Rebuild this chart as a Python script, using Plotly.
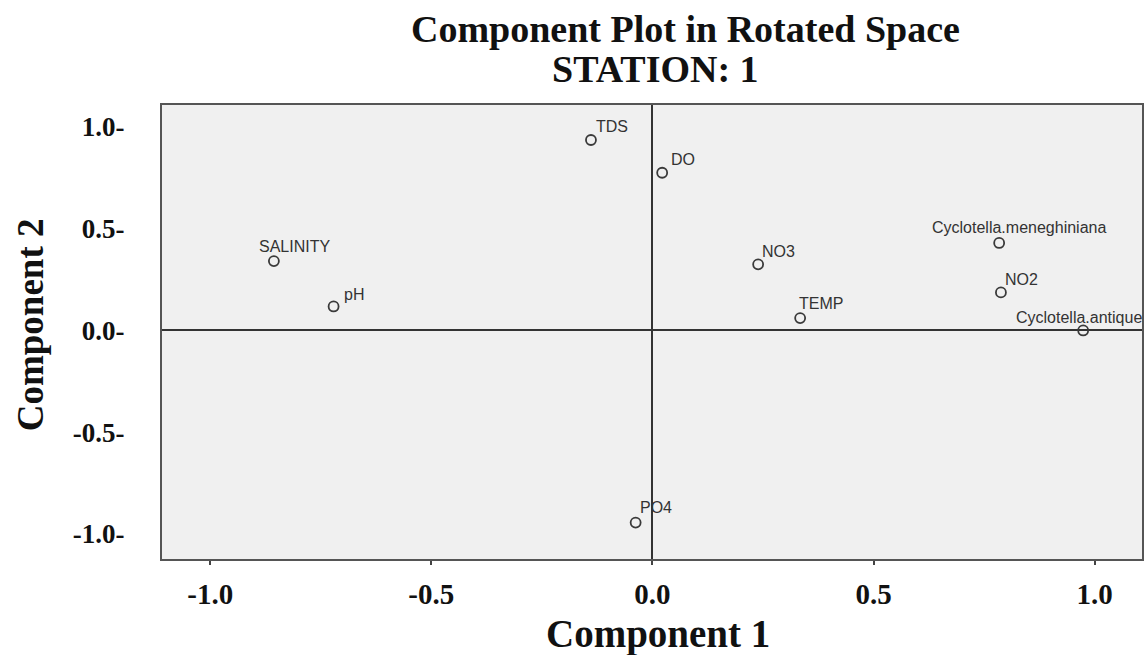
import plotly.graph_objects as go

# Rotated component loadings for station 1
variables = ["TDS", "DO", "SALINITY", "pH", "NO3", "TEMP",
             "Cyclotella.meneghiniana", "NO2", "Cyclotella.antique", "PO4"]
component_1 = [-0.139, 0.022, -0.856, -0.721, 0.239, 0.334, 0.784, 0.788, 0.974, -0.038]
component_2 = [0.936, 0.775, 0.341, 0.118, 0.325, 0.061, 0.430, 0.187, 0.0, -0.944]

tick_values = [-1.0, -0.5, 0.0, 0.5, 1.0]
x_tick_labels = ["-1.0", "-0.5", "0.0", "0.5", "1.0"]
y_tick_labels = ["-1.0-", "-0.5-", "0.0-", "0.5-", "1.0-"]

# label placement relative to each marker: (anchor, x shift px, y shift px)
label_place = {
    "TDS": ("left", 3, 14),
    "DO": ("left", 7, 13),
    "SALINITY": ("center", 21, 15),
    "pH": ("left", 8, 12),
    "NO3": ("left", 2, 13),
    "TEMP": ("left", -3, 15),
    "Cyclotella.meneghiniana": ("center", 20, 15),
    "NO2": ("left", 2, 13),
    "Cyclotella.antique": ("right", 61, 13),
    "PO4": ("left", 2, 15),
}

W, H = 1146, 655
L, R, T, B = 162, 1144, 105, 559
PW, PH = R - L, B - T


def px_x(px):
    return (px - L) / PW


def px_y(py):
    return (B - py) / PH


serif = "Liberation Serif"

fig = go.Figure()
fig.add_trace(go.Scatter(
    x=component_1, y=component_2, mode="markers",
    marker=dict(symbol="circle", size=10, color="rgba(0,0,0,0)",
                line=dict(color="#3a3a3a", width=1.8)),
    hoverinfo="text", text=variables, showlegend=False, cliponaxis=False,
))

annotations = []
for name, cx, cy in zip(variables, component_1, component_2):
    anchor, dx, dy = label_place[name]
    annotations.append(dict(
        x=cx, y=cy, xref="x", yref="y", text=name, showarrow=False,
        xanchor=anchor, yanchor="middle", xshift=dx, yshift=dy,
        font=dict(family="Liberation Sans", size=16, color="#333333"),
    ))

# titles
annotations += [
    dict(text="<b>Component Plot in Rotated Space</b>", xref="paper", yref="paper",
         x=px_x(687), y=px_y(29), xanchor="center", yanchor="middle", showarrow=False,
         font=dict(family=serif, size=38, color="#111111")),
    dict(text="<b>STATION: 1</b>", xref="paper", yref="paper",
         x=px_x(657), y=px_y(69), xanchor="center", yanchor="middle", showarrow=False,
         font=dict(family=serif, size=38, color="#111111")),
    dict(text="<b>Component 1</b>", xref="paper", yref="paper",
         x=px_x(659), y=px_y(634), xanchor="center", yanchor="middle", showarrow=False,
         font=dict(family=serif, size=39, color="#111111")),
    dict(text="<b>Component 2</b>", xref="paper", yref="paper", textangle=-90,
         x=px_x(30), y=px_y(325), xanchor="center", yanchor="middle", showarrow=False,
         font=dict(family=serif, size=37, color="#111111")),
]

fig.update_layout(
    width=W, height=H,
    margin=dict(l=L, r=W - R, t=T, b=H - B, pad=0),
    paper_bgcolor="white",
    plot_bgcolor="#f0f0f0",
    annotations=annotations,
    showlegend=False,
)

fig.update_xaxes(
    range=[-1.109, 1.107],
    tickvals=tick_values, ticktext=x_tick_labels,
    ticks="outside", ticklen=4, tickwidth=2, tickcolor="#444444",
    ticklabelstandoff=4,
    tickfont=dict(family=serif, size=29, color="#111111", weight="bold"),
    showgrid=False,
    zeroline=True, zerolinecolor="#333333", zerolinewidth=2,
    showline=True, mirror=True, linecolor="#555555", linewidth=2,
)
fig.update_yaxes(
    range=[-1.123, 1.108],
    tickvals=tick_values, ticktext=y_tick_labels,
    ticks="", ticklabelstandoff=30,
    tickfont=dict(family=serif, size=27, color="#111111", weight="bold"),
    showgrid=False,
    zeroline=True, zerolinecolor="#333333", zerolinewidth=2,
    showline=True, mirror=True, linecolor="#555555", linewidth=2,
)

fig.write_html("out.html")
